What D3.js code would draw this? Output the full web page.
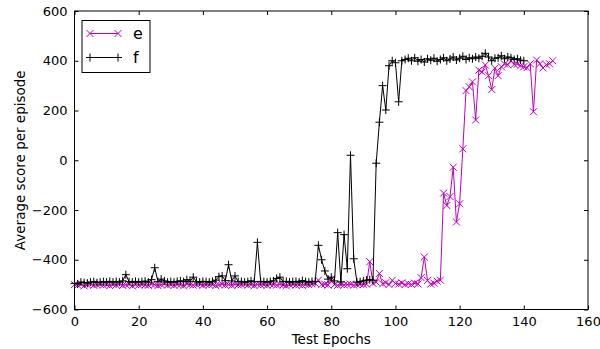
<!DOCTYPE html>
<html>
<head>
<meta charset="utf-8">
<script src="https://cdn.jsdelivr.net/npm/d3@7"></script>
<style>
  body { margin: 0; background: #fff; }
  text { font-family: "DejaVu Sans", sans-serif; fill: #000; }
</style>
</head>
<body>
<div id="chart1"></div>
<script>
// series values, index = test epoch
const eValues = [
  -500, -502, -498, -505, -500, -497, -503, -500, -498, -502,
  -500, -504, -499, -501, -497, -503, -500, -498, -505, -500,
  -502, -499, -501, -503, -498, -500, -504, -500, -497, -502,
  -500, -503, -499, -501, -505, -498, -500, -502, -500, -497,
  -503, -500, -501, -499, -504, -500, -498, -502, -500, -503,
  -499, -501, -500, -497, -502, -500, -504, -499, -501, -500,
  -503, -498, -500, -502, -499, -501, -505, -500, -498, -502,
  -500, -503, -499, -500, -497, -495, -482, -500, -498, -502,
  -478, -500, -503, -499, -501, -500, -498, -502, -500, -497,
  -500, -498, -408, -495, -490, -455, -497, -492, -500, -483,
  -495, -498, -493, -500, -496, -499, -494, -497, -472, -389,
  -483, -498, -494, -486, -482, -132, -182, -146, -28, -248,
  -175, 46, 280, 295, 315, 162, 362, 355, 383, 340,
  284, 370, 340, 376, 387, 384, 400, 385, 387, 380,
  376, 372, 388, 195, 403, 388, 371, 384, 388, 400
];
const fValues = [
  -495, -497, -490, -492, -494, -490, -488, -492, -490, -488,
  -490, -487, -490, -488, -490, -485, -460, -488, -490, -487,
  -490, -488, -486, -490, -480, -432, -488, -478, -485, -490,
  -488, -490, -487, -485, -488, -480, -487, -470, -488, -490,
  -487, -488, -490, -487, -482, -468, -465, -484, -420, -485,
  -465, -488, -487, -490, -488, -485, -488, -330, -487, -488,
  -490, -487, -485, -475, -470, -488, -487, -490, -488, -487,
  -490, -484, -488, -490, -487, -488, -342, -400, -445, -478,
  -470, -485, -291, -489, -299, -436, 20, -396, -490, -488,
  -485, -482, -480, -482, -12, 153, 300, 202, 380, 400,
  392, 235, 400, 405, 410, 400, 412, 398, 405, 395,
  408, 402, 410, 398, 405, 412, 400, 407, 415, 403,
  410, 418, 405, 412, 408, 415, 410, 418, 430, 415,
  400, 410, 412, 420, 408, 415, 412, 405, 408, 402,
  400
];
const seriesNames = ["e", "f"];
const seriesColors = ["#bf00bf", "#000000"];
const xTicks = [0, 20, 40, 60, 80, 100, 120, 140, 160];
const yTicks = [-600, -400, -200, 0, 200, 400, 600];

const width = 600;
const height = 349;
const margin = ({top: 11, right: 12, bottom: 39.5, left: 74.5});

const svg = d3.select("#chart1")
    .append("svg")
    .attr("width", width)
    .attr("height", height);

const x = d3.scaleLinear()
    .domain([0, 160])
    .range([margin.left, width - margin.right]);

const y = d3.scaleLinear()
    .domain([-600, 600])
    .range([height - margin.bottom, margin.top]);

const plot = svg.append("g");

const line = d3.line()
    .x((d, i) => x(i))
    .y(d => y(d));

// marker shapes: x-cross and plus
const crossPath = s => `M${-s},${-s}L${s},${s}M${-s},${s}L${s},${-s}`;
const plusPath = s => `M${-s},0L${s},0M0,${-s}L0,${s}`;
const markers = [crossPath(3.5), plusPath(4)];

[eValues, fValues].forEach((vals, k) => {
  plot.append("path")
    .datum(vals)
    .attr("fill", "none")
    .attr("stroke", seriesColors[k])
    .attr("stroke-width", 1)
    .attr("d", line);

  plot.selectAll(".m" + k)
    .data(vals)
    .join("path")
    .attr("class", "m" + k)
    .attr("transform", (d, i) => `translate(${x(i)},${y(d)})`)
    .attr("d", markers[k])
    .attr("fill", "none")
    .attr("stroke", seriesColors[k])
    .attr("stroke-width", 1);
});

// axes, ticks inward on all four sides
const xAxis = svg.append("g")
    .attr("transform", `translate(0,${height - margin.bottom})`)
    .call(d3.axisBottom(x).tickValues(xTicks).tickSizeInner(-4).tickSizeOuter(0).tickPadding(7));
const xTop = svg.append("g")
    .attr("transform", `translate(0,${margin.top})`)
    .call(d3.axisTop(x).tickValues(xTicks).tickSizeInner(-4).tickSizeOuter(0).tickFormat(""));
const yAxis = svg.append("g")
    .attr("transform", `translate(${margin.left},0)`)
    .call(d3.axisLeft(y).tickValues(yTicks).tickSizeInner(-4).tickSizeOuter(0).tickPadding(7)
      .tickFormat(d => d < 0 ? "\u2212" + Math.abs(d) : d));
const yRight = svg.append("g")
    .attr("transform", `translate(${width - margin.right},0)`)
    .call(d3.axisRight(y).tickValues(yTicks).tickSizeInner(-4).tickSizeOuter(0).tickFormat(""));

svg.selectAll(".domain").remove();
svg.selectAll(".tick line").attr("stroke", "#000");
svg.selectAll(".tick text").style("font-size", "13px").attr("fill", "#000");

svg.append("rect")
    .attr("x", margin.left)
    .attr("y", margin.top)
    .attr("width", width - margin.left - margin.right)
    .attr("height", height - margin.top - margin.bottom)
    .attr("fill", "none")
    .attr("stroke", "#000")
    .attr("stroke-width", 1);

svg.append("text")
    .attr("x", (margin.left + width - margin.right) / 2)
    .attr("y", height - 5)
    .attr("text-anchor", "middle")
    .style("font-size", "13.5px")
    .text("Test Epochs");

svg.append("text")
    .attr("transform", `translate(25,${(margin.top + height - margin.bottom) / 2}) rotate(-90)`)
    .attr("text-anchor", "middle")
    .style("font-size", "13.5px")
    .text("Average score per episode");

// legend
const legend = svg.append("g").attr("transform", "translate(82,20.5)");
legend.append("rect")
    .attr("width", 68)
    .attr("height", 52)
    .attr("fill", "#fff")
    .attr("stroke", "#000")
    .attr("stroke-width", 1);

seriesNames.forEach((name, k) => {
  const ly = 13 + k * 24;
  legend.append("line")
    .attr("x1", 8).attr("x2", 36)
    .attr("y1", ly).attr("y2", ly)
    .attr("stroke", seriesColors[k]);
  [8, 36].forEach(mx => {
    legend.append("path")
      .attr("transform", `translate(${mx},${ly})`)
      .attr("d", markers[k])
      .attr("fill", "none")
      .attr("stroke", seriesColors[k]);
  });
  legend.append("text")
    .attr("x", 51)
    .attr("y", ly + 5)
    .style("font-size", "16px")
    .text(name);
});
</script>
</body>
</html>
